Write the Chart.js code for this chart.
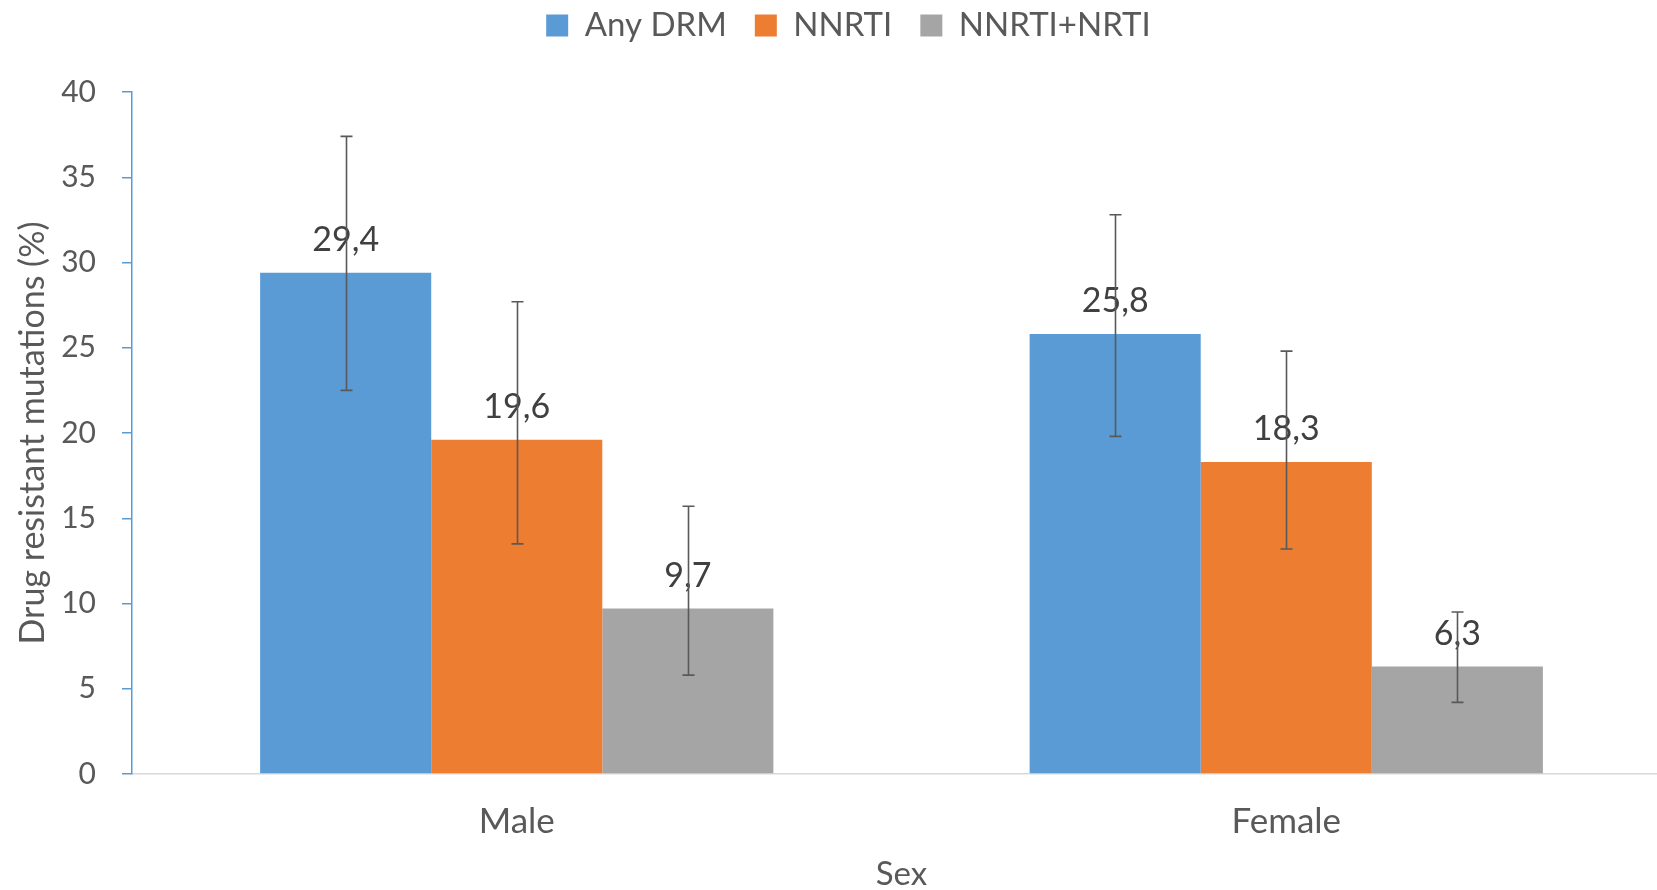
<!DOCTYPE html>
<html><head><meta charset="utf-8">
<script src="https://cdn.jsdelivr.net/npm/chart.js@4/dist/chart.umd.min.js"></script>
<style>html,body{margin:0;padding:0;background:#fff;overflow:hidden}#wrap{width:1657px;height:890px;overflow:hidden}</style>
</head><body><div id="wrap"><canvas id="c" width="1671" height="890"></canvas></div>
<script>
const categories = ["Male", "Female"];
const seriesNames = ["Any DRM", "NNRTI", "NNRTI+NRTI"];
const anyDRM = [29.4, 25.8];
const nnrti = [19.6, 18.3];
const nnrtiNrti = [9.7, 6.3];
const anyDRMLow = [22.5, 19.8];
const anyDRMHigh = [37.4, 32.8];
const nnrtiLow = [13.5, 13.2];
const nnrtiHigh = [27.7, 24.8];
const nnrtiNrtiLow = [5.8, 4.2];
const nnrtiNrtiHigh = [15.7, 9.5];
const yTicks = [0, 5, 10, 15, 20, 25, 30, 35, 40];

const FONT = "Lato";
const TXT = "#595959";
const colors = ["#5B9BD5", "#ED7D31", "#A5A5A5"];
const lows = [anyDRMLow, nnrtiLow, nnrtiNrtiLow];
const highs = [anyDRMHigh, nnrtiHigh, nnrtiNrtiHigh];

const SPACER_H = 40;
const spacer = {
  id: "spacer",
  beforeInit(chart) {
    const box = {
      position: "top", weight: 100, fullSize: true, options: {},
      width: 0, height: SPACER_H, left: 0, top: 0, right: 0, bottom: 0,
      isHorizontal() { return true; },
      update(maxWidth) { this.width = maxWidth; this.height = SPACER_H; return { width: maxWidth, height: SPACER_H }; },
      getPadding() { return { top: 0, left: 0, right: 0, bottom: 0 }; },
      draw() {}
    };
    Chart.layouts.addBox(chart, box);
  }
};

const overlay = {
  id: "overlay",
  afterDatasetsDraw(chart) {
    const ctx = chart.ctx;
    const ys = chart.scales.y;
    ctx.save();
    chart.data.datasets.forEach((ds, i) => {
      const meta = chart.getDatasetMeta(i);
      meta.data.forEach((bar, j) => {
        ctx.font = "34px " + FONT;
        ctx.fillStyle = "#404040";
        ctx.textAlign = "center";
        ctx.textBaseline = "alphabetic";
        ctx.fillText(ds.data[j].toFixed(1).replace(".", ","), bar.x, bar.y - 22);
      });
    });
    chart.data.datasets.forEach((ds, i) => {
      const meta = chart.getDatasetMeta(i);
      meta.data.forEach((bar, j) => {
        const yl = ys.getPixelForValue(lows[i][j]);
        const yh = ys.getPixelForValue(highs[i][j]);
        const x = Math.round(bar.x) + 0.5;
        ctx.strokeStyle = "#595959";
        ctx.lineWidth = 1.6;
        ctx.beginPath();
        ctx.moveTo(x, yl); ctx.lineTo(x, yh);
        ctx.moveTo(x - 6, yl); ctx.lineTo(x + 6, yl);
        ctx.moveTo(x - 6, yh); ctx.lineTo(x + 6, yh);
        ctx.stroke();
      });
    });
    ctx.restore();
  }
};

new Chart(document.getElementById("c"), {
  type: "bar",
  data: {
    labels: categories,
    datasets: [
      { label: seriesNames[0], data: anyDRM, backgroundColor: colors[0] },
      { label: seriesNames[1], data: nnrti, backgroundColor: colors[1] },
      { label: seriesNames[2], data: nnrtiNrti, backgroundColor: colors[2] }
    ]
  },
  options: {
    responsive: false,
    animation: false,
    devicePixelRatio: 1,
    layout: { padding: { top: -19, right: 0, left: 26, bottom: 0 } },
    datasets: { bar: { categoryPercentage: 0.667, barPercentage: 1.0 } },
    plugins: {
      tooltip: { enabled: false },
      legend: {
        position: "top",
        labels: {
          font: { family: FONT, size: 33 },
          color: TXT,
          boxWidth: 22, boxHeight: 22,
          padding: 28,
          generateLabels(chart) {
            return chart.data.datasets.map((d, i) => ({
              text: d.label, fillStyle: d.backgroundColor, strokeStyle: d.backgroundColor,
              lineWidth: 0, datasetIndex: i, fontColor: TXT
            }));
          }
        }
      }
    },
    scales: {
      x: {
        grid: { display: false },
        border: { display: true, color: "#D9D9D9", width: 1.5 },
        ticks: { font: { family: FONT, size: 35 }, color: TXT, padding: 19 },
        title: { display: true, text: "Sex", font: { family: FONT, size: 33 }, color: TXT, padding: { top: 23, bottom: -4 } },
        afterFit(s) { s.height = 116; }
      },
      y: {
        min: 0, max: 40,
        afterBuildTicks(s) { s.ticks = yTicks.map(v => ({ value: v })); },
        grid: { display: true, drawOnChartArea: false, drawTicks: true, tickLength: 10, color: "#5B9BD5", lineWidth: 1.5 },
        border: { display: true, color: "#5B9BD5", width: 1.5 },
        ticks: { font: { family: FONT, size: 30 }, color: TXT, padding: 26 },
        title: { display: true, text: "Drug resistant mutations (%)", font: { family: FONT, size: 34 }, color: TXT, padding: { top: -13, bottom: 0 } },
        afterFit(s) { s.width = 106; }
      }
    }
  },
  plugins: [spacer, overlay]
});
</script></body></html>
